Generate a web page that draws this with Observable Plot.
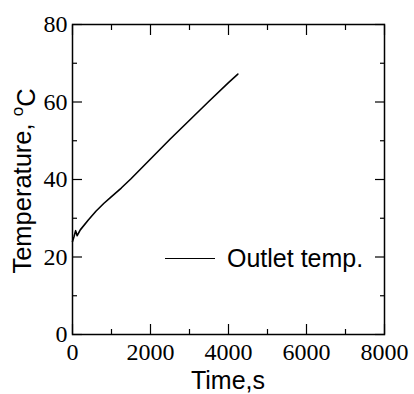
<!DOCTYPE html>
<html>
<head>
<meta charset="utf-8">
<script src="https://cdn.jsdelivr.net/npm/d3@7"></script>
<script src="https://cdn.jsdelivr.net/npm/@observablehq/plot@0.6"></script>
<style>
  html, body { margin: 0; padding: 0; background: #fff; }
  #wrap { position: relative; width: 414px; height: 394px; }
  #legend { position: absolute; left: 165px; top: 244px; display: flex; align-items: center;
            font-family: "Liberation Sans", Arial, sans-serif; font-size: 25px; color: #000; white-space: nowrap; }
  #legend .sw { width: 50px; height: 0; border-top: 1.3px solid #000; margin-right: 12px; }
  .ticklab, .ticklab text { font-family: "Liberation Serif", "DejaVu Serif", serif !important; font-size: 24px !important; }
</style>
</head>
<body>
<div id="wrap"><div id="legend"><span class="sw"></span><span>Outlet temp.</span></div></div>
<script>
// Series: outlet temperature vs time
const timeS = [0, 40, 80, 120, 200, 400, 600, 800, 1000, 1250, 1500, 2000, 2500, 3000, 3500, 4000, 4240];
const tempC = [24.0, 25.3, 26.8, 25.5, 27.0, 29.5, 31.8, 33.8, 35.6, 37.8, 40.2, 45.3, 50.4, 55.3, 60.2, 65.0, 67.2];

const xMajor = [0, 2000, 4000, 6000, 8000];
const xMinor = [1000, 3000, 5000, 7000];
const yMajor = [0, 20, 40, 60, 80];
const yMinor = [10, 30, 50, 70];

const seriesName = "Outlet temp.";
const xTitle = "Time,s";
const yTitle = "Temperature, ";
const yUnitSup = "o";
const yUnit = "C";

const data = timeS.map((t, i) => ({t, v: tempC[i]}));

const sans = "Liberation Sans";
const serif = "Liberation Serif";

const chart = Plot.plot({
  width: 414,
  height: 394,
  marginLeft: 72,
  marginRight: 30,
  marginTop: 24,
  marginBottom: 60,
  x: {domain: [0, 8000]},
  y: {domain: [0, 80]},
  marks: [
    Plot.axisX(xMajor, {anchor: "bottom", tickSize: -10, text: null, label: null, strokeWidth: 1.2}),
    Plot.axisX(xMinor, {anchor: "bottom", tickSize: -5, text: null, label: null, strokeWidth: 1.2}),
    Plot.axisX(xMajor, {anchor: "top", tickSize: -10, text: null, label: null, strokeWidth: 1.2}),
    Plot.axisX(xMinor, {anchor: "top", tickSize: -5, text: null, label: null, strokeWidth: 1.2}),
    Plot.axisY(yMajor, {anchor: "left", tickSize: -10, text: null, label: null, strokeWidth: 1.2}),
    Plot.axisY(yMinor, {anchor: "left", tickSize: -5, text: null, label: null, strokeWidth: 1.2}),
    Plot.axisY(yMajor, {anchor: "right", tickSize: -10, text: null, label: null, strokeWidth: 1.2}),
    Plot.axisY(yMinor, {anchor: "right", tickSize: -5, text: null, label: null, strokeWidth: 1.2}),
    Plot.text(xMajor, {x: d => d, text: d => String(d), frameAnchor: "bottom", lineAnchor: "top", dy: 8,
                       fontFamily: serif, fontSize: 24, fill: "#000", className: "ticklab"}),
    Plot.text(yMajor, {y: d => d, text: d => String(d), frameAnchor: "left", textAnchor: "end", dx: -5,
                       fontFamily: serif, fontSize: 24, fill: "#000", className: "ticklab"}),
    Plot.frame({stroke: "#000", strokeWidth: 1.5}),
    Plot.line(data, {x: "t", y: "v", stroke: "#000", strokeWidth: 1.6})
  ]
});

const svg = d3.select(chart);

svg.append("text")
  .attr("x", 228).attr("y", 389)
  .attr("text-anchor", "middle")
  .attr("font-family", sans)
  .attr("font-size", 25)
  .attr("fill", "#000")
  .text(xTitle);

const yt = svg.append("text")
  .attr("transform", "translate(31,181) rotate(-90)")
  .attr("text-anchor", "middle")
  .attr("font-family", sans)
  .attr("font-size", 25.5)
  .attr("fill", "#000");
yt.append("tspan").text(yTitle);
yt.append("tspan").attr("dy", "-0.45em").attr("font-size", 17).text(yUnitSup);
yt.append("tspan").attr("dy", "0.45em").attr("font-size", 25.5).text(yUnit);

const wrap = document.getElementById("wrap");
wrap.insertBefore(chart, wrap.firstChild);
document.querySelector("#legend span:last-child").textContent = seriesName;
</script>
</body>
</html>
